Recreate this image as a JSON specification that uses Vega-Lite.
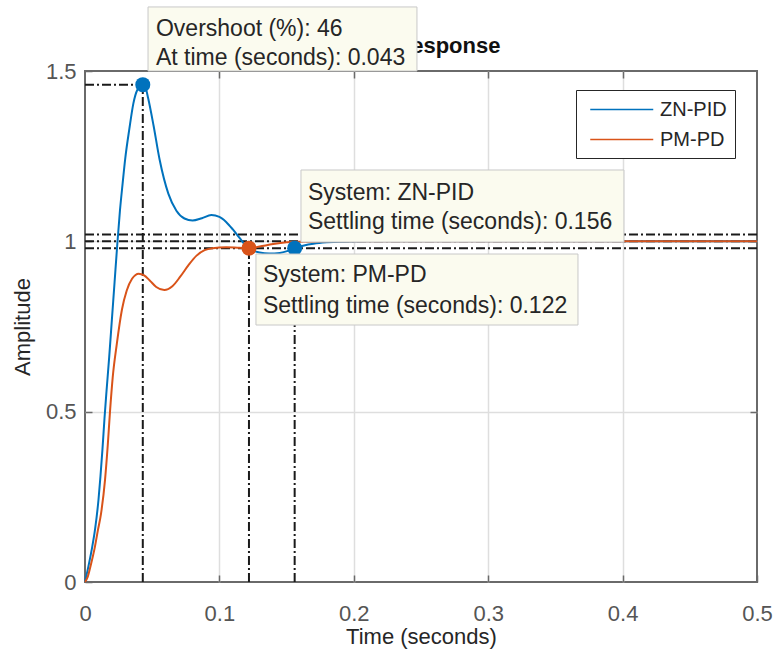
{
  "$schema": "https://vega.github.io/schema/vega-lite/v6.json",
  "width": 672,
  "height": 511,
  "autosize": {"type": "none"},
  "padding": {"left": 85, "top": 71, "right": 16, "bottom": 70},
  "background": "white",
  "config": {
    "view": {"stroke": "#6a6a6a", "strokeWidth": 2},
    "font": "Liberation Sans",
    "axis": {
      "domain": false,
      "labelFont": "Liberation Sans",
      "labelFontSize": 22,
      "labelColor": "#555555",
      "titleFont": "Liberation Sans",
      "titleFontSize": 22,
      "titleFontWeight": "normal",
      "titleColor": "#262626",
      "tickColor": "#6a6a6a",
      "tickWidth": 1.5,
      "tickSize": -7,
      "gridColor": "#dedede",
      "gridWidth": 1.5,
      "labelFlush": false,
      "labelOverlap": false,
      "labelBound": false
    }
  },
  "datasets": {
    "curves": [
      {"series": "ZN-PID", "t": 0, "a": 0},
      {"series": "ZN-PID", "t": 0.0025, "a": 0.045},
      {"series": "ZN-PID", "t": 0.005, "a": 0.095},
      {"series": "ZN-PID", "t": 0.0075, "a": 0.155},
      {"series": "ZN-PID", "t": 0.01, "a": 0.24},
      {"series": "ZN-PID", "t": 0.0115, "a": 0.31},
      {"series": "ZN-PID", "t": 0.013, "a": 0.39},
      {"series": "ZN-PID", "t": 0.0145, "a": 0.48},
      {"series": "ZN-PID", "t": 0.016, "a": 0.56},
      {"series": "ZN-PID", "t": 0.018, "a": 0.66},
      {"series": "ZN-PID", "t": 0.02, "a": 0.77},
      {"series": "ZN-PID", "t": 0.022, "a": 0.88},
      {"series": "ZN-PID", "t": 0.024, "a": 0.99},
      {"series": "ZN-PID", "t": 0.026, "a": 1.09},
      {"series": "ZN-PID", "t": 0.028, "a": 1.17},
      {"series": "ZN-PID", "t": 0.03, "a": 1.245},
      {"series": "ZN-PID", "t": 0.033, "a": 1.33},
      {"series": "ZN-PID", "t": 0.036, "a": 1.405},
      {"series": "ZN-PID", "t": 0.039, "a": 1.445},
      {"series": "ZN-PID", "t": 0.043, "a": 1.46},
      {"series": "ZN-PID", "t": 0.045, "a": 1.452},
      {"series": "ZN-PID", "t": 0.047, "a": 1.42},
      {"series": "ZN-PID", "t": 0.051, "a": 1.34},
      {"series": "ZN-PID", "t": 0.0555, "a": 1.24},
      {"series": "ZN-PID", "t": 0.062, "a": 1.14},
      {"series": "ZN-PID", "t": 0.068, "a": 1.09},
      {"series": "ZN-PID", "t": 0.074, "a": 1.067},
      {"series": "ZN-PID", "t": 0.08, "a": 1.061},
      {"series": "ZN-PID", "t": 0.087, "a": 1.068},
      {"series": "ZN-PID", "t": 0.094, "a": 1.077},
      {"series": "ZN-PID", "t": 0.1, "a": 1.072},
      {"series": "ZN-PID", "t": 0.105, "a": 1.057},
      {"series": "ZN-PID", "t": 0.11, "a": 1.035},
      {"series": "ZN-PID", "t": 0.115, "a": 1.01},
      {"series": "ZN-PID", "t": 0.12, "a": 0.986},
      {"series": "ZN-PID", "t": 0.125, "a": 0.973},
      {"series": "ZN-PID", "t": 0.13, "a": 0.967},
      {"series": "ZN-PID", "t": 0.137, "a": 0.964},
      {"series": "ZN-PID", "t": 0.145, "a": 0.966},
      {"series": "ZN-PID", "t": 0.151, "a": 0.972},
      {"series": "ZN-PID", "t": 0.156, "a": 0.98},
      {"series": "ZN-PID", "t": 0.163, "a": 0.988},
      {"series": "ZN-PID", "t": 0.17, "a": 0.993},
      {"series": "ZN-PID", "t": 0.18, "a": 0.997},
      {"series": "ZN-PID", "t": 0.19, "a": 0.999},
      {"series": "ZN-PID", "t": 0.21, "a": 1.0},
      {"series": "ZN-PID", "t": 0.3, "a": 1.0},
      {"series": "ZN-PID", "t": 0.4, "a": 1.0},
      {"series": "ZN-PID", "t": 0.5, "a": 1.0},
      {"series": "PM-PD", "t": 0, "a": 0},
      {"series": "PM-PD", "t": 0.002, "a": 0.015},
      {"series": "PM-PD", "t": 0.004, "a": 0.045},
      {"series": "PM-PD", "t": 0.0074, "a": 0.104},
      {"series": "PM-PD", "t": 0.0095, "a": 0.15},
      {"series": "PM-PD", "t": 0.0119, "a": 0.2},
      {"series": "PM-PD", "t": 0.0149, "a": 0.3},
      {"series": "PM-PD", "t": 0.0169, "a": 0.4},
      {"series": "PM-PD", "t": 0.0186, "a": 0.5},
      {"series": "PM-PD", "t": 0.0206, "a": 0.6},
      {"series": "PM-PD", "t": 0.0237, "a": 0.7},
      {"series": "PM-PD", "t": 0.0275, "a": 0.8},
      {"series": "PM-PD", "t": 0.031, "a": 0.855},
      {"series": "PM-PD", "t": 0.035, "a": 0.89},
      {"series": "PM-PD", "t": 0.04, "a": 0.905},
      {"series": "PM-PD", "t": 0.044, "a": 0.9},
      {"series": "PM-PD", "t": 0.048, "a": 0.886},
      {"series": "PM-PD", "t": 0.053, "a": 0.866},
      {"series": "PM-PD", "t": 0.059, "a": 0.857},
      {"series": "PM-PD", "t": 0.065, "a": 0.868},
      {"series": "PM-PD", "t": 0.071, "a": 0.897},
      {"series": "PM-PD", "t": 0.077, "a": 0.93},
      {"series": "PM-PD", "t": 0.083, "a": 0.958},
      {"series": "PM-PD", "t": 0.089, "a": 0.974},
      {"series": "PM-PD", "t": 0.095, "a": 0.98},
      {"series": "PM-PD", "t": 0.105, "a": 0.983},
      {"series": "PM-PD", "t": 0.115, "a": 0.981},
      {"series": "PM-PD", "t": 0.122, "a": 0.98},
      {"series": "PM-PD", "t": 0.13, "a": 0.985},
      {"series": "PM-PD", "t": 0.14, "a": 0.992},
      {"series": "PM-PD", "t": 0.15, "a": 0.997},
      {"series": "PM-PD", "t": 0.16, "a": 0.999},
      {"series": "PM-PD", "t": 0.18, "a": 1.0},
      {"series": "PM-PD", "t": 0.3, "a": 1.0},
      {"series": "PM-PD", "t": 0.4, "a": 1.0},
      {"series": "PM-PD", "t": 0.5, "a": 1.0}
    ],
    "refs": [
      {"t": 0, "t2": 0.5, "a": 1.02, "a2": 1.02},
      {"t": 0, "t2": 0.5, "a": 1.0, "a2": 1.0},
      {"t": 0, "t2": 0.5, "a": 0.98, "a2": 0.98},
      {"t": 0, "t2": 0.043, "a": 1.46, "a2": 1.46},
      {"t": 0.043, "t2": 0.043, "a": 0, "a2": 1.46},
      {"t": 0.122, "t2": 0.122, "a": 0, "a2": 0.98},
      {"t": 0.156, "t2": 0.156, "a": 0, "a2": 0.98}
    ],
    "dots": [
      {"series": "ZN-PID", "t": 0.043, "a": 1.46},
      {"series": "PM-PD", "t": 0.122, "a": 0.98},
      {"series": "ZN-PID", "t": 0.156, "a": 0.98}
    ],
    "ttl": [{"label": "Step Response", "t": 0.25, "a": 1.5}],
    "boxes": [
      {"t1": 0.0469, "t2": 0.247, "a1": 1.688, "a2": 1.5},
      {"t1": 0.1607, "t2": 0.401, "a1": 1.2094, "a2": 0.998},
      {"t1": 0.1272, "t2": 0.3668, "a1": 0.9628, "a2": 0.7544}
    ],
    "tips": [
      {"t": 0.0528, "a": 1.603, "line": "Overshoot (%): 46"},
      {"t": 0.0528, "a": 1.518, "line": "At time (seconds): 0.043"},
      {"t": 0.1659, "a": 1.1213, "line": "System: ZN-PID"},
      {"t": 0.1659, "a": 1.0362, "line": "Settling time (seconds): 0.156"},
      {"t": 0.1324, "a": 0.8792, "line": "System: PM-PD"},
      {"t": 0.1324, "a": 0.7896, "line": "Settling time (seconds): 0.122"}
    ]
  },
  "resolve": {"axis": {"x": "independent", "y": "independent"}},
  "layer": [
    {
      "data": {"name": "refs"},
      "mark": {"type": "rule", "color": "#1a1a1a", "strokeWidth": 2, "strokeDash": [9, 3, 2, 3]},
      "encoding": {
        "x": {"field": "t", "type": "quantitative", "scale": {"domain": [0, 0.5], "nice": false, "zero": false},
          "axis": {"orient": "bottom", "values": [0, 0.1, 0.2, 0.3, 0.4, 0.5], "format": "~g", "grid": false, "title": "Time (seconds)", "labelPadding": 28, "titlePadding": 2}},
        "x2": {"field": "t2"},
        "y": {"field": "a", "type": "quantitative", "scale": {"domain": [0, 1.5], "nice": false},
          "axis": {"orient": "left", "values": [0, 0.5, 1, 1.5], "format": "~g", "grid": false, "title": "Amplitude", "labelPadding": 16, "titlePadding": 11}},
        "y2": {"field": "a2"}
      }
    },
    {
      "data": {"name": "curves"},
      "mark": {"type": "line", "strokeWidth": 2, "interpolate": "monotone"},
      "encoding": {
        "x": {"field": "t", "type": "quantitative",
          "axis": {"orient": "top", "values": [0.1, 0.2, 0.3, 0.4], "labels": false, "title": null, "grid": true}},
        "y": {"field": "a", "type": "quantitative",
          "axis": {"orient": "right", "values": [0.5, 1], "labels": false, "title": null, "grid": true}},
        "color": {"field": "series", "type": "nominal",
          "scale": {"domain": ["ZN-PID", "PM-PD"], "range": ["#0072BD", "#D95319"]},
          "legend": {"orient": "none", "legendX": 491, "legendY": 19, "title": null,
            "symbolType": "M-0.5,0H5.5", "symbolSize": 441, "symbolStrokeWidth": 1.5, "symbolFillColor": "transparent",
            "labelFont": "Liberation Sans", "labelFontSize": 20, "labelColor": "#262626", "labelOffset": 53,
            "padding": 8, "rowPadding": 8, "strokeColor": "#262626", "fillColor": "white"}}
      }
    },
    {
      "data": {"name": "dots"},
      "mark": {"type": "circle", "size": 225, "opacity": 1},
      "encoding": {
        "x": {"field": "t", "type": "quantitative", "axis": null},
        "y": {"field": "a", "type": "quantitative", "axis": null},
        "color": {"field": "series", "type": "nominal", "legend": null}
      }
    },
    {
      "data": {"name": "ttl"},
      "mark": {"type": "text", "fontWeight": "bold", "fontSize": 22, "align": "center", "baseline": "alphabetic", "dy": -18, "color": "#111111"},
      "encoding": {
        "x": {"field": "t", "type": "quantitative", "axis": null},
        "y": {"field": "a", "type": "quantitative", "axis": null},
        "text": {"field": "label"}
      }
    },
    {
      "data": {"name": "boxes"},
      "mark": {"type": "rect", "fill": "#fbfbef", "stroke": "#c8c8c8", "strokeWidth": 1},
      "encoding": {
        "x": {"field": "t1", "type": "quantitative", "axis": null},
        "x2": {"field": "t2"},
        "y": {"field": "a1", "type": "quantitative", "axis": null},
        "y2": {"field": "a2"}
      }
    },
    {
      "data": {"name": "tips"},
      "mark": {"type": "text", "align": "left", "baseline": "alphabetic", "fontSize": 23, "color": "#262626"},
      "encoding": {
        "x": {"field": "t", "type": "quantitative", "axis": null},
        "y": {"field": "a", "type": "quantitative", "axis": null},
        "text": {"field": "line"}
      }
    }
  ]
}
